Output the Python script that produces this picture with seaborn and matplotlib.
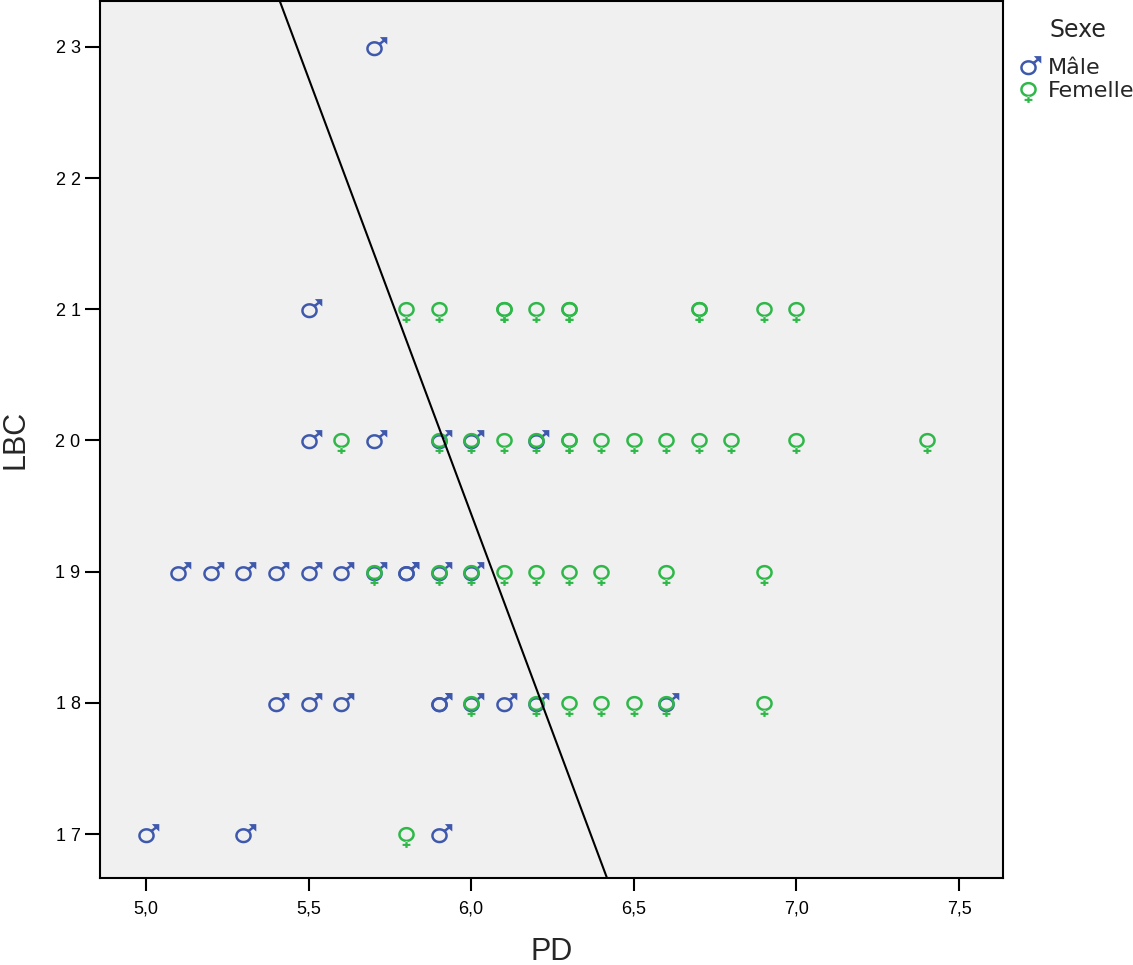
import matplotlib
matplotlib.use("Agg")
import matplotlib.pyplot as plt
import matplotlib.ticker as mticker
from matplotlib.path import Path
from matplotlib.lines import Line2D
import numpy as np
import seaborn as sns
import pandas as pd

# ---- data ----
male_pd = [5.7,
           5.5,
           5.5, 5.7, 5.9, 6.0, 6.2,
           5.1, 5.2, 5.3, 5.4, 5.5, 5.6, 5.7, 5.8, 5.8, 5.9, 6.0,
           5.4, 5.5, 5.6, 5.9, 5.9, 6.0, 6.1, 6.2, 6.6,
           5.0, 5.3, 5.9]
male_lbc = [23,
            21,
            20, 20, 20, 20, 20,
            19, 19, 19, 19, 19, 19, 19, 19, 19, 19, 19,
            18, 18, 18, 18, 18, 18, 18, 18, 18,
            17, 17, 17]
female_pd = [5.8, 5.9, 6.1, 6.1, 6.2, 6.3, 6.3, 6.7, 6.7, 6.9, 7.0,
             5.6, 5.9, 6.0, 6.1, 6.2, 6.3, 6.3, 6.4, 6.5, 6.6, 6.7, 6.8, 7.0, 7.4,
             5.7, 5.9, 6.0, 6.1, 6.2, 6.3, 6.4, 6.6, 6.9,
             6.0, 6.2, 6.3, 6.4, 6.5, 6.6, 6.9,
             5.8]
female_lbc = [21, 21, 21, 21, 21, 21, 21, 21, 21, 21, 21,
              20, 20, 20, 20, 20, 20, 20, 20, 20, 20, 20, 20, 20, 20,
              19, 19, 19, 19, 19, 19, 19, 19, 19,
              18, 18, 18, 18, 18, 18, 18,
              17]
sex_labels = ["Mâle", "Femelle"]
legend_title = "Sexe"
line_intercept = 59.31
line_slope = -6.645

df = pd.DataFrame({
    "PD": male_pd + female_pd,
    "LBC": male_lbc + female_lbc,
    "Sexe": [sex_labels[0]] * len(male_pd) + [sex_labels[1]] * len(female_pd),
})


# ---- marker shapes (ring near the data point, slightly wide) ----
RX, RY, TH = 8.3, 7.6, 2.5


def ring(cy=0.0, n=72):
    t = np.linspace(0, 2 * np.pi, n, endpoint=False)
    outer = np.column_stack([RX * np.cos(t), cy + RY * np.sin(t)])
    inner = np.column_stack([(RX - TH) * np.cos(t), cy + (RY - TH) * np.sin(t)])[::-1]
    verts = np.vstack([outer, outer[:1], inner, inner[:1]])
    codes = ([Path.MOVETO] + [Path.LINETO] * (n - 1) + [Path.CLOSEPOLY]) * 2
    return verts, codes


def poly(pts):
    pts = np.asarray(pts, float)
    verts = np.vstack([pts, pts[:1]])
    codes = [Path.MOVETO] + [Path.LINETO] * (len(pts) - 1) + [Path.CLOSEPOLY]
    return verts, codes


def male_path():
    cy = -1.2
    rv, rc = ring(cy)
    c = np.array([0.0, cy])
    tip = np.array([12.8, 10.4])
    d = tip - c
    u = d / np.linalg.norm(d)
    v = np.array([-u[1], u[0]])
    w = 1.25
    h = 7.4
    p_left = tip - [h, 0.0]
    p_down = tip - [0.0, h]
    s0 = c + 0.85 * RX * u
    s1 = (p_left + p_down) / 2 - 0.3 * u
    pts = [s0 + w * v, s0 - w * v, s1 - w * v, p_down, tip, p_left, s1 + w * v]
    pv, pc = poly(pts)
    return Path(np.vstack([rv, pv]), rc + pc)


def female_path():
    rv, rc = ring()
    w = 1.15
    y0 = -RY + 0.7
    y1 = -13.4
    yc = -10.4
    bh = 1.05
    bl = 3.9
    pts = [(-w, y0), (-w, yc + bh), (-bl, yc + bh), (-bl, yc - bh), (-w, yc - bh), (-w, y1),
           (w, y1), (w, yc - bh), (bl, yc - bh), (bl, yc + bh), (w, yc + bh), (w, y0)]
    pv, pc = poly(pts[::-1])
    return Path(np.vstack([rv, pv]), rc + pc)


def msize_pts(path):
    # matplotlib normalises a path marker by its largest coordinate
    return 2 * np.max(np.abs(path.vertices)) * 72 / 100


markers = {"Mâle": male_path(), "Femelle": female_path()}
palette = {"Mâle": "#3E58AC", "Femelle": "#2EB848"}

sns.set_style("ticks")
plt.rcParams["font.family"] = ["Liberation Sans", "DejaVu Sans"]

fig = plt.figure(figsize=(11.33, 9.65), dpi=100)
ax = fig.add_axes([100 / 1133, 87 / 965, 903 / 1133, 877 / 965])
ax.set_facecolor("#F0F0F0")

for lab in sex_labels:
    sub = df[df["Sexe"] == lab]
    sns.scatterplot(data=sub, x="PD", y="LBC", color=palette[lab],
                    marker=markers[lab], s=msize_pts(markers[lab]) ** 2,
                    linewidth=0, ax=ax, legend=False, zorder=3)

ax.axline((0, line_intercept), slope=line_slope, color="black", lw=1.5, zorder=4)

ax.set_xlim(4.859, 7.635)
ax.set_ylim(16.665, 23.35)
ax.set_xticks([5.0, 5.5, 6.0, 6.5, 7.0, 7.5])
ax.set_yticks([17, 18, 19, 20, 21, 22, 23])
ax.xaxis.set_major_formatter(mticker.FuncFormatter(lambda v, p: f"{v:.1f}".replace(".", ",")))
ax.yaxis.set_major_formatter(mticker.FuncFormatter(lambda v, p: " ".join(f"{int(v)}")))
ax.tick_params(axis="x", direction="out", length=9, width=1.5, labelsize=13, pad=7, colors="black")
ax.tick_params(axis="y", direction="out", length=11, width=1.5, labelsize=13, pad=3, colors="black")
for sp in ax.spines.values():
    sp.set_visible(True)
    sp.set_color("black")
    sp.set_linewidth(1.5)

ax.set_xlabel("PD", fontsize=22, labelpad=14)
ax.set_ylabel("LBC", fontsize=22, labelpad=18)

# legend (title placed as a separate text, entries below)
fig.text(1078 / 1133, 1 - 30 / 965, legend_title, ha="center", va="center",
         fontsize=17, family=["DejaVu Sans"])
handles = [Line2D([], [], linestyle="none", marker=markers[k], color=palette[k],
                  markersize=msize_pts(markers[k]), markeredgewidth=0) for k in sex_labels]
leg = fig.legend(handles, sex_labels, loc="upper left",
                 bbox_to_anchor=(1016 / 1133, 1 - 58 / 965), frameon=False,
                 prop={"family": "DejaVu Sans", "size": 16}, handletextpad=0.35,
                 handlelength=1.1, labelspacing=0.12, borderaxespad=0, borderpad=0)

fig.savefig("out.png", dpi=100)
